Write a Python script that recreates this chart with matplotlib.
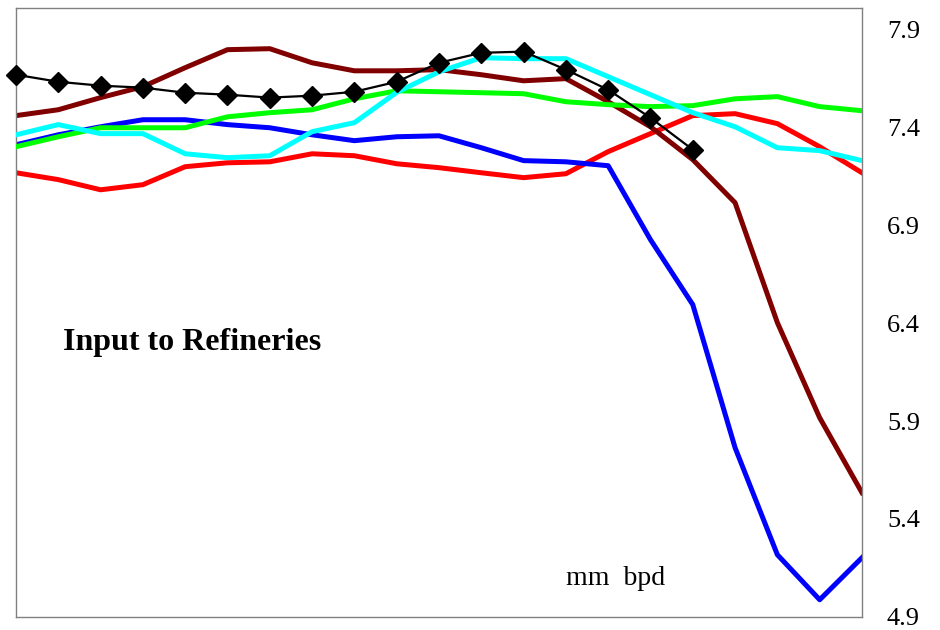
import numpy as np
import matplotlib
matplotlib.use("Agg")
import matplotlib.pyplot as plt

plt.rcParams['font.family'] = ['Liberation Serif', 'DejaVu Serif']

# 21 periods, no x labels on the original
periods = np.arange(21)

red = [7.169, 7.134, 7.082, 7.108, 7.200, 7.220, 7.225, 7.266, 7.256, 7.215, 7.195,
       7.169, 7.144, 7.164, 7.277, 7.369, 7.461, 7.471, 7.420, 7.302, 7.169]
blue = [7.312, 7.363, 7.404, 7.440, 7.440, 7.415, 7.399, 7.363, 7.333, 7.353, 7.358,
        7.297, 7.231, 7.225, 7.205, 6.827, 6.495, 5.764, 5.217, 4.987, 5.202]
brown = [7.461, 7.491, 7.553, 7.609, 7.706, 7.798, 7.803, 7.731, 7.690, 7.690, 7.696,
         7.670, 7.639, 7.650, 7.532, 7.404, 7.236, 7.016, 6.403, 5.917, 5.534]
green = [7.302, 7.353, 7.399, 7.399, 7.399, 7.455, 7.476, 7.491, 7.547, 7.588, 7.583,
         7.578, 7.573, 7.532, 7.517, 7.507, 7.512, 7.547, 7.558, 7.507, 7.486]
cyan = [7.363, 7.415, 7.369, 7.369, 7.266, 7.246, 7.256, 7.379, 7.425, 7.580, 7.685,
        7.757, 7.752, 7.752, 7.660, 7.568, 7.476, 7.404, 7.297, 7.282, 7.231]
black = [7.670, 7.634, 7.614, 7.604, 7.578, 7.568, 7.553, 7.563, 7.583, 7.634, 7.731,
         7.782, 7.788, 7.696, 7.593, 7.450, 7.287]

yticks = [4.9, 5.4, 5.9, 6.4, 6.9, 7.4, 7.9]

fig = plt.figure(figsize=(9.4, 6.3), dpi=100)
ax = fig.add_axes([0.017, 0.021, 0.900, 0.966])

lw = 3.6
ax.plot(periods, red, color='#FF0000', lw=lw, zorder=2)
ax.plot(periods, blue, color='#0000FF', lw=lw, zorder=2)
ax.plot(periods, brown, color='#800000', lw=lw, zorder=2)
ax.plot(periods, green, color='#00FF00', lw=lw, zorder=3)
ax.plot(periods, cyan, color='#00FFFF', lw=lw, zorder=4)
ax.plot(periods[:len(black)], black, color='black', lw=1.6, marker='D',
        markersize=10, zorder=5, clip_on=False)

ax.set_xlim(0, 20)
ax.set_ylim(4.9, 8.01)
ax.set_xticks([])
ax.yaxis.tick_right()
ax.set_yticks(yticks)
ax.set_yticklabels([f"{v:.1f}" for v in yticks])
ax.tick_params(axis='y', length=0, pad=18, labelsize=19)
for s in ax.spines.values():
    s.set_color('#808080')
    s.set_linewidth(1)

ax.text(1.1, 6.30, "Input to Refineries", fontsize=23, fontweight='bold',
        va='center', ha='left')
ax.text(13.0, 5.095, "mm  bpd", fontsize=20, va='center', ha='left')

fig.savefig("out.png", dpi=100)
